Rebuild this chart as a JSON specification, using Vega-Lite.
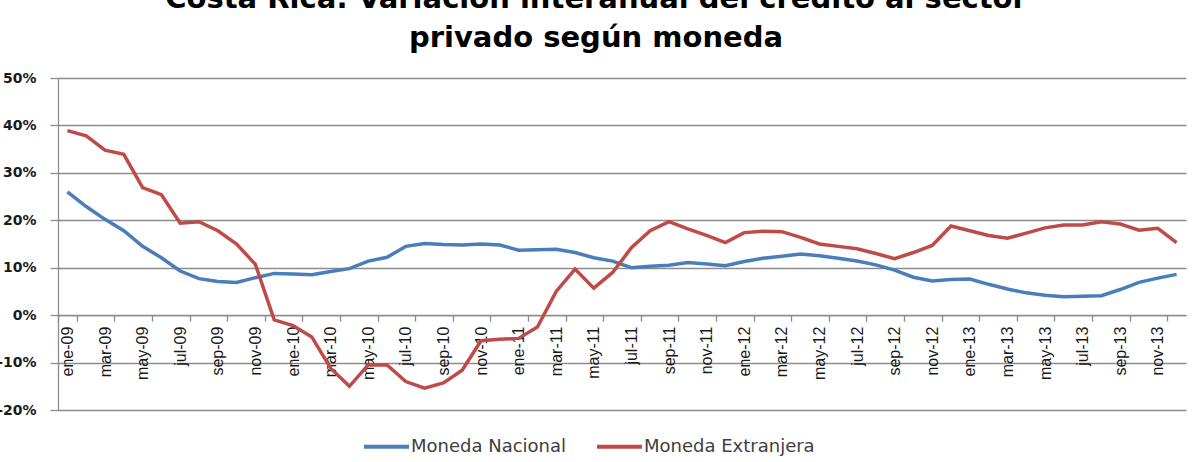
{
  "$schema": "https://vega.github.io/schema/vega-lite/v6.json",
  "width": 1128,
  "height": 332,
  "autosize": "none",
  "padding": {"left": 58, "top": 78, "right": 6, "bottom": 52},
  "background": "white",
  "config": {"view": {"stroke": null}},
  "title": {
    "text": ["Costa Rica:  Variación interanual del crédito al sector", "privado según moneda"],
    "font": "DejaVu Sans",
    "fontWeight": "bold",
    "fontSize": 29,
    "lineHeight": 39,
    "anchor": "middle",
    "frame": "group",
    "dx": -26,
    "offset": 18,
    "color": "#000000"
  },
  "data": {
    "values": [
      {"mes": "ene-09", "nacional": 26.0, "extranjera": 38.9},
      {"mes": "feb-09", "nacional": 22.9, "extranjera": 37.8},
      {"mes": "mar-09", "nacional": 20.2, "extranjera": 34.8},
      {"mes": "abr-09", "nacional": 17.8, "extranjera": 33.9},
      {"mes": "may-09", "nacional": 14.5, "extranjera": 26.9},
      {"mes": "jun-09", "nacional": 12.1, "extranjera": 25.4},
      {"mes": "jul-09", "nacional": 9.3, "extranjera": 19.4},
      {"mes": "ago-09", "nacional": 7.7, "extranjera": 19.7},
      {"mes": "sep-09", "nacional": 7.1, "extranjera": 17.8},
      {"mes": "oct-09", "nacional": 6.9, "extranjera": 15.0},
      {"mes": "nov-09", "nacional": 7.9, "extranjera": 10.7},
      {"mes": "dic-09", "nacional": 8.8, "extranjera": -1.0},
      {"mes": "ene-10", "nacional": 8.7, "extranjera": -2.2},
      {"mes": "feb-10", "nacional": 8.5, "extranjera": -4.6},
      {"mes": "mar-10", "nacional": 9.2, "extranjera": -11.2},
      {"mes": "abr-10", "nacional": 9.8, "extranjera": -15.0},
      {"mes": "may-10", "nacional": 11.4, "extranjera": -10.5},
      {"mes": "jun-10", "nacional": 12.2, "extranjera": -10.5},
      {"mes": "jul-10", "nacional": 14.5, "extranjera": -14.0},
      {"mes": "ago-10", "nacional": 15.1, "extranjera": -15.4},
      {"mes": "sep-10", "nacional": 14.9, "extranjera": -14.3},
      {"mes": "oct-10", "nacional": 14.8, "extranjera": -11.6},
      {"mes": "nov-10", "nacional": 15.0, "extranjera": -5.4},
      {"mes": "dic-10", "nacional": 14.8, "extranjera": -5.1},
      {"mes": "ene-11", "nacional": 13.7, "extranjera": -4.9},
      {"mes": "feb-11", "nacional": 13.8, "extranjera": -2.5},
      {"mes": "mar-11", "nacional": 13.9, "extranjera": 5.0},
      {"mes": "abr-11", "nacional": 13.2, "extranjera": 9.7},
      {"mes": "may-11", "nacional": 12.1, "extranjera": 5.7},
      {"mes": "jun-11", "nacional": 11.4, "extranjera": 9.0},
      {"mes": "jul-11", "nacional": 10.0, "extranjera": 14.2},
      {"mes": "ago-11", "nacional": 10.3, "extranjera": 17.8},
      {"mes": "sep-11", "nacional": 10.5, "extranjera": 19.7},
      {"mes": "oct-11", "nacional": 11.1, "extranjera": 18.2},
      {"mes": "nov-11", "nacional": 10.8, "extranjera": 16.8},
      {"mes": "dic-11", "nacional": 10.4, "extranjera": 15.3},
      {"mes": "ene-12", "nacional": 11.3, "extranjera": 17.4},
      {"mes": "feb-12", "nacional": 12.0, "extranjera": 17.7},
      {"mes": "mar-12", "nacional": 12.4, "extranjera": 17.6},
      {"mes": "abr-12", "nacional": 12.9, "extranjera": 16.4},
      {"mes": "may-12", "nacional": 12.5, "extranjera": 15.0},
      {"mes": "jun-12", "nacional": 12.0, "extranjera": 14.5},
      {"mes": "jul-12", "nacional": 11.4, "extranjera": 14.0},
      {"mes": "ago-12", "nacional": 10.6, "extranjera": 13.0},
      {"mes": "sep-12", "nacional": 9.5, "extranjera": 11.9},
      {"mes": "oct-12", "nacional": 8.0, "extranjera": 13.2},
      {"mes": "nov-12", "nacional": 7.2, "extranjera": 14.7},
      {"mes": "dic-12", "nacional": 7.5, "extranjera": 18.8},
      {"mes": "ene-13", "nacional": 7.6, "extranjera": 17.8},
      {"mes": "feb-13", "nacional": 6.5, "extranjera": 16.8},
      {"mes": "mar-13", "nacional": 5.5, "extranjera": 16.2},
      {"mes": "abr-13", "nacional": 4.7, "extranjera": 17.3},
      {"mes": "may-13", "nacional": 4.2, "extranjera": 18.4},
      {"mes": "jun-13", "nacional": 3.9, "extranjera": 19.0},
      {"mes": "jul-13", "nacional": 4.0, "extranjera": 19.0},
      {"mes": "ago-13", "nacional": 4.1, "extranjera": 19.7},
      {"mes": "sep-13", "nacional": 5.4, "extranjera": 19.2},
      {"mes": "oct-13", "nacional": 6.9, "extranjera": 17.9},
      {"mes": "nov-13", "nacional": 7.8, "extranjera": 18.3},
      {"mes": "dic-13", "nacional": 8.6, "extranjera": 15.3}
    ]
  },
  "transform": [{"fold": ["nacional", "extranjera"], "as": ["serie", "valor"]}],
  "mark": {"type": "line", "strokeWidth": 3.5},
  "encoding": {
    "x": {
      "field": "mes",
      "type": "ordinal",
      "sort": null,
      "scale": {"type": "band", "paddingInner": 0, "paddingOuter": 0},
      "bandPosition": 0.5,
      "axis": {
        "values": ["ene-09", "mar-09", "may-09", "jul-09", "sep-09", "nov-09", "ene-10", "mar-10", "may-10", "jul-10", "sep-10", "nov-10", "ene-11", "mar-11", "may-11", "jul-11", "sep-11", "nov-11", "ene-12", "mar-12", "may-12", "jul-12", "sep-12", "nov-12", "ene-13", "mar-13", "may-13", "jul-13", "sep-13", "nov-13"],
        "title": null,
        "labelAngle": -90,
        "labelFont": "Liberation Sans",
        "labelFontSize": 16,
        "labelColor": "#1a1a1a",
        "labelPadding": 5,
        "labelOverlap": false,
        "labelBound": false,
        "tickBand": "extent",
        "tickSize": 6,
        "tickWidth": 1.3,
        "tickColor": "#8c8c8c",
        "domainColor": "#8c8c8c",
        "domainWidth": 1.3,
        "offset": -94.86,
        "grid": false
      }
    },
    "y": {
      "field": "valor",
      "type": "quantitative",
      "scale": {"domain": [-20, 50], "nice": false, "zero": false},
      "axis": {
        "values": [-20, -10, 0, 10, 20, 30, 40, 50],
        "labelExpr": "datum.value + '%'",
        "title": null,
        "grid": true,
        "gridColor": "#8c8c8c",
        "gridWidth": 1.3,
        "domainColor": "#8c8c8c",
        "domainWidth": 1.3,
        "tickColor": "#8c8c8c",
        "tickWidth": 1.3,
        "tickSize": 8,
        "labelFont": "DejaVu Sans",
        "labelFontWeight": "bold",
        "labelFontSize": 14,
        "labelColor": "#1a1a1a",
        "labelPadding": 14
      }
    },
    "color": {
      "field": "serie",
      "type": "nominal",
      "scale": {"domain": ["nacional", "extranjera"], "range": ["#4A7EBB", "#BE4B48"]},
      "legend": {
        "orient": "none",
        "legendX": 304,
        "legendY": 344,
        "direction": "horizontal",
        "title": null,
        "symbolType": "stroke",
        "symbolSize": 2025,
        "symbolStrokeWidth": 4,
        "labelFont": "DejaVu Sans",
        "labelFontSize": 18,
        "labelColor": "#404040",
        "labelOffset": 0,
        "labelLimit": 400,
        "columnPadding": 22,
        "padding": 0,
        "labelExpr": "datum.label == 'nacional' ? 'Moneda Nacional' : 'Moneda Extranjera'"
      }
    }
  }
}
